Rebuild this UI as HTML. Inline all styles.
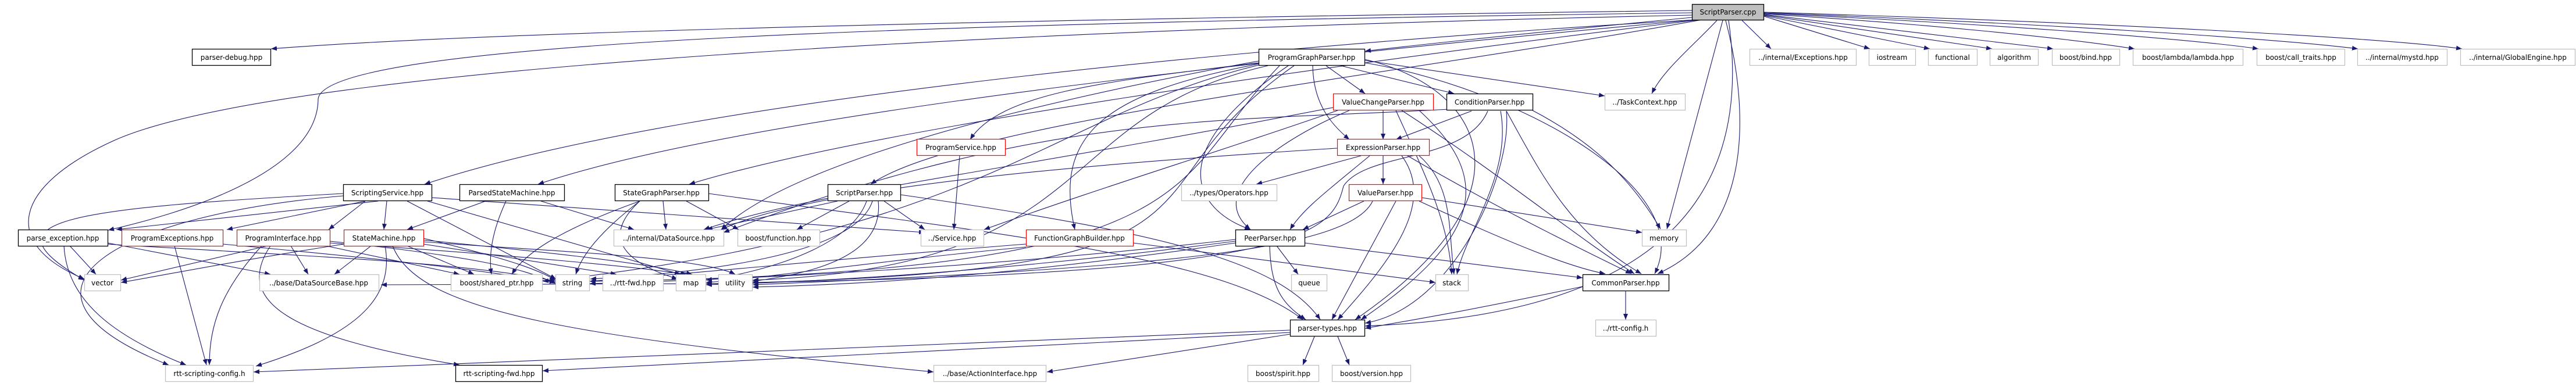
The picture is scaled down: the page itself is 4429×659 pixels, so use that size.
<!DOCTYPE html>
<html><head><meta charset="utf-8"><style>
html,body{margin:0;padding:0;background:#fff;}
svg{display:block;}
text{font-family:"DejaVu Sans","Liberation Sans",sans-serif;font-size:12px;fill:#000;}
.e{fill:none;stroke:#191970;stroke-width:1.1;marker-end:url(#a);}
.g{fill:#fff;stroke:#bfbfbf;stroke-width:1.2;}
.b{fill:#fff;stroke:#000;stroke-width:1.3;}
.r{fill:#fff;stroke:#ff0000;stroke-width:1.2;}
</style></head><body>
<svg width="4429" height="659" viewBox="0 0 4429 659" xmlns="http://www.w3.org/2000/svg">
<defs><marker id="a" markerWidth="10" markerHeight="8" refX="10" refY="4" orient="auto" markerUnits="userSpaceOnUse"><path d="M0,0 L10,4 L0,8 z" fill="#191970"/></marker></defs>
<g>
<!-- ScriptParser.cpp edges -->
<path class="e" d="M2909,18 C2000,30 900,50 466,84"/>
<path class="e" d="M2909,22 C1600,40 560,70 547,170 C547,300 300,370 186,396"/>
<path class="e" d="M2909,26 C1800,50 500,110 200,240 C20,320 0,420 145,480"/>
<path class="e" d="M2915,34 C2300,70 1200,160 730,317"/>
<path class="e" d="M2918,34 C2300,90 1300,190 925,317"/>
<path class="e" d="M2922,34 C2300,110 1500,220 1185,317"/>
<path class="e" d="M2926,34 C2400,130 1650,210 1497,317"/>
<path class="e" d="M2909,30 C2700,50 2500,70 2347,88"/>
<path class="e" d="M2952,35 C2910,80 2860,120 2840,161"/>
<path class="e" d="M2962,35 L2866,394"/>
<path class="e" d="M2967,35 C3010,200 3010,400 2850,471"/>
<path class="e" d="M2972,35 C3010,300 2900,540 2347,561"/>
<path class="e" d="M2995,35 L3045,84"/>
<path class="e" d="M3033,28 L3215,84"/>
<path class="e" d="M3033,27 L3318,84"/>
<path class="e" d="M3033,26 L3425,84"/>
<path class="e" d="M3033,25 L3530,84"/>
<path class="e" d="M3033,24 C3300,40 3550,65 3670,84"/>
<path class="e" d="M3033,23 C3400,40 3750,65 3883,84"/>
<path class="e" d="M3033,22 C3500,40 3900,65 4054,84"/>
<path class="e" d="M3033,21 C3600,38 4100,65 4233,84"/>
<!-- ProgramGraphParser edges -->
<path class="e" d="M2280,113 L2347,161"/>
<path class="e" d="M2305,113 L2500,161"/>
<path class="e" d="M2346,104 L2759,165"/>
<path class="e" d="M2257,113 C2258,180 2290,215 2320,240"/>
<path class="e" d="M2164,108 C1900,140 1720,160 1668,240"/>
<path class="e" d="M2164,110 C1900,160 1810,230 1848,395"/>
<path class="e" d="M2215,113 C2000,260 2050,360 2150,395"/>
<path class="e" d="M2164,105 C1700,190 1350,290 1240,395"/>
<path class="e" d="M2346,108 C2600,150 2920,320 2845,471"/>
<path class="e" d="M2346,102 C2550,150 2650,330 2330,550"/>
<path class="e" d="M2200,113 C2000,320 2100,470 1014,484"/>
<path class="e" d="M2225,113 C1900,340 2200,470 1214,488"/>
<path class="e" d="M2180,113 C1800,200 1900,460 1294,482"/>
<path class="e" d="M2164,112 C1800,200 1700,400 933,484"/>
<!-- ValueChangeParser -->
<path class="e" d="M2378,190 L2378,240"/>
<path class="e" d="M2320,190 C2200,240 2070,330 2150,395"/>
<path class="e" d="M2300,190 C2100,260 1900,320 1692,395"/>
<path class="e" d="M2292,185 C1700,300 1400,330 1210,395"/>
<path class="e" d="M2410,190 C2580,300 2700,400 2810,471"/>
<path class="e" d="M2440,190 C2560,300 2560,400 2340,550"/>
<path class="e" d="M2400,190 C2450,300 2490,380 2496,472"/>
<!-- ConditionParser -->
<path class="e" d="M2530,191 L2400,240"/>
<path class="e" d="M2490,188 C2100,210 1800,190 1244,400"/>
<path class="e" d="M2558,191 C2520,280 2350,260 2310,320 C2290,400 2250,470 1294,486"/>
<path class="e" d="M2590,191 C2650,300 2700,400 2822,471"/>
<path class="e" d="M2590,191 C2600,300 2500,530 2347,556"/>
<path class="e" d="M2580,191 C2600,300 2520,400 2505,472"/>
<path class="e" d="M2635,190 C2730,240 2800,300 2855,394"/>
<!-- ExpressionParser -->
<path class="e" d="M2340,268 L2160,317"/>
<path class="e" d="M2378,268 L2378,317"/>
<path class="e" d="M2355,268 C2280,330 2240,360 2218,395"/>
<path class="e" d="M2420,268 C2560,350 2700,420 2805,471"/>
<path class="e" d="M2410,268 C2470,350 2390,450 2300,550"/>
<path class="e" d="M2440,268 C2500,320 2490,400 2500,472"/>
<path class="e" d="M2299,255 C1900,280 1400,320 1240,395"/>
<!-- ValueParser -->
<path class="e" d="M2345,346 L2240,395"/>
<path class="e" d="M2400,346 L2290,550"/>
<path class="e" d="M2440,346 C2600,420 2700,460 2760,471"/>
<path class="e" d="M2444,340 L2823,400"/>
<path class="e" d="M2360,346 C2320,430 2000,460 1294,490"/>
<!-- PeerParser -->
<path class="e" d="M2195,423 L2232,472"/>
<path class="e" d="M2243,418 L2721,478"/>
<path class="e" d="M2183,423 C2185,490 2200,520 2245,550"/>
<path class="e" d="M2124,412 C1700,460 1300,480 1014,488"/>
<path class="e" d="M2124,415 C1700,470 1400,485 1214,490"/>
<path class="e" d="M2124,418 C1700,480 1450,490 1294,494"/>
<!-- CommonParser -->
<path class="e" d="M2795,501 L2795,550"/>
<path class="e" d="M2721,493 C2500,540 2400,555 2347,565"/>
<!-- parser-types -->
<path class="e" d="M2260,579 L2240,628"/>
<path class="e" d="M2300,579 L2320,628"/>
<path class="e" d="M2218,575 L1800,640"/>
<path class="e" d="M2218,568 C1500,600 800,620 436,640"/>
<path class="e" d="M2218,572 C1700,600 1100,630 933,638"/>
<!-- ProgramService, FGB -->
<path class="e" d="M1650,268 L1640,395"/>
<path class="e" d="M1948,418 L2468,486"/>
<path class="e" d="M1764,420 C1500,440 1200,470 1014,484"/>
<path class="e" d="M1764,425 C1500,450 1300,480 1214,486"/>
<!-- ScriptingService -->
<path class="e" d="M650,346 L200,395"/>
<path class="e" d="M628,346 L390,395"/>
<path class="e" d="M628,346 L565,395"/>
<path class="e" d="M665,346 L660,395"/>
<path class="e" d="M590,333 C100,360 -30,380 145,482"/>
<path class="e" d="M700,346 L956,480"/>
<path class="e" d="M735,346 L1170,472"/>
<path class="e" d="M742,340 L1590,400"/>
<path class="e" d="M590,337 C200,370 -30,500 290,628"/>
<!-- ParsedStateMachine -->
<path class="e" d="M835,346 L700,395"/>
<path class="e" d="M870,346 C845,400 840,440 845,472"/>
<path class="e" d="M930,346 L1090,395"/>
<!-- StateGraphParser -->
<path class="e" d="M1140,346 L1145,395"/>
<path class="e" d="M1180,346 L1270,395"/>
<path class="e" d="M1100,346 C1030,400 1000,440 990,472"/>
<path class="e" d="M1100,346 C950,400 900,440 880,472"/>
<path class="e" d="M1100,346 C1020,420 1100,460 1165,480"/>
<path class="e" d="M1218,333 C1700,400 2100,440 2240,550"/>
<!-- ScriptParser.hpp -->
<path class="e" d="M1460,346 L1370,395"/>
<path class="e" d="M1440,346 L1215,395"/>
<path class="e" d="M1500,346 C1470,440 1200,470 1015,480"/>
<path class="e" d="M1490,346 C1460,430 1300,470 1214,482"/>
<path class="e" d="M1510,346 C1520,440 1400,470 1294,484"/>
<path class="e" d="M1520,346 L1590,395"/>
<path class="e" d="M1548,335 C2000,400 2200,450 2270,550"/>
<!-- parse_exception -->
<path class="e" d="M120,423 L165,472"/>
<path class="e" d="M185,418 L465,472"/>
<path class="e" d="M185,420 C500,440 800,450 955,484"/>
<path class="e" d="M110,423 C115,520 200,580 320,628"/>
<!-- ProgramExceptions -->
<path class="e" d="M300,423 L355,628"/>
<path class="e" d="M383,420 C600,440 800,460 955,486"/>
<!-- ProgramInterface -->
<path class="e" d="M460,423 L208,482"/>
<path class="e" d="M500,423 L530,472"/>
<path class="e" d="M450,423 C380,500 360,560 360,628"/>
<path class="e" d="M465,423 C400,520 500,580 790,628"/>
<path class="e" d="M567,415 C800,440 900,460 955,488"/>
<path class="e" d="M567,418 C900,440 1100,460 1180,472"/>
<path class="e" d="M560,423 L790,472"/>
<!-- StateMachine -->
<path class="e" d="M638,423 L575,472"/>
<path class="e" d="M700,423 L815,472"/>
<path class="e" d="M728,410 C850,440 920,460 955,482"/>
<path class="e" d="M728,413 C900,430 1100,450 1190,472"/>
<path class="e" d="M728,416 C900,430 1200,440 1264,472"/>
<path class="e" d="M728,420 L1060,472"/>
<path class="e" d="M662,423 C680,520 600,580 440,630"/>
<path class="e" d="M675,423 C720,540 1000,580 1605,640"/>
<path class="e" d="M591,420 C400,450 300,470 208,486"/>
<path class="e" d="M1235,488 L655,490"/>
</g>
<g>
<rect x="2909.5" y="7.5" width="123" height="27" fill="#bfbfbf" stroke="#000" stroke-width="1.3"/><text x="2971" y="25" text-anchor="middle">ScriptParser.cpp</text>
<rect class="b" x="330.5" y="84.5" width="135" height="28"/><text x="398" y="103" text-anchor="middle">parser-debug.hpp</text>
<rect class="b" x="2164.5" y="84.5" width="182" height="28"/><text x="2255" y="103" text-anchor="middle">ProgramGraphParser.hpp</text>
<rect class="g" x="3008.5" y="84.5" width="183" height="28"/><text x="3100" y="103" text-anchor="middle">../internal/Exceptions.hpp</text>
<rect class="g" x="3213.5" y="84.5" width="80" height="28"/><text x="3253" y="103" text-anchor="middle">iostream</text>
<rect class="g" x="3315.5" y="84.5" width="84" height="28"/><text x="3357" y="103" text-anchor="middle">functional</text>
<rect class="g" x="3421.5" y="84.5" width="83" height="28"/><text x="3463" y="103" text-anchor="middle">algorithm</text>
<rect class="g" x="3528.5" y="84.5" width="116" height="28"/><text x="3586" y="103" text-anchor="middle">boost/bind.hpp</text>
<rect class="g" x="3667.5" y="84.5" width="189" height="28"/><text x="3762" y="103" text-anchor="middle">boost/lambda/lambda.hpp</text>
<rect class="g" x="3880.5" y="84.5" width="151" height="28"/><text x="3956" y="103" text-anchor="middle">boost/call_traits.hpp</text>
<rect class="g" x="4053.5" y="84.5" width="154" height="28"/><text x="4130" y="103" text-anchor="middle">../internal/mystd.hpp</text>
<rect class="g" x="4230.5" y="84.5" width="197" height="28"/><text x="4329" y="103" text-anchor="middle">../internal/GlobalEngine.hpp</text>

<rect class="r" x="2292.5" y="161.5" width="172" height="28"/><text x="2378" y="180" text-anchor="middle">ValueChangeParser.hpp</text>
<rect class="b" x="2487.5" y="161.5" width="148" height="28"/><text x="2561" y="180" text-anchor="middle">ConditionParser.hpp</text>
<rect class="g" x="2759.5" y="161.5" width="138" height="28"/><text x="2828" y="180" text-anchor="middle">../TaskContext.hpp</text>

<rect class="r" x="1576.5" y="239.5" width="152" height="28"/><text x="1652" y="258" text-anchor="middle">ProgramService.hpp</text>
<rect class="r" x="2299.5" y="239.5" width="158" height="28"/><text x="2378" y="258" text-anchor="middle">ExpressionParser.hpp</text>

<rect class="b" x="590.5" y="317.5" width="152" height="28"/><text x="666" y="336" text-anchor="middle">ScriptingService.hpp</text>
<rect class="b" x="790.5" y="317.5" width="180" height="28"/><text x="880" y="336" text-anchor="middle">ParsedStateMachine.hpp</text>
<rect class="b" x="1057.5" y="317.5" width="161" height="28"/><text x="1137" y="336" text-anchor="middle">StateGraphParser.hpp</text>
<rect class="b" x="1423.5" y="317.5" width="125" height="28"/><text x="1486" y="336" text-anchor="middle">ScriptParser.hpp</text>
<rect class="g" x="2031.5" y="317.5" width="164" height="28"/><text x="2113" y="336" text-anchor="middle">../types/Operators.hpp</text>
<rect class="r" x="2319.5" y="317.5" width="125" height="28"/><text x="2382" y="336" text-anchor="middle">ValueParser.hpp</text>

<rect class="b" x="31.5" y="395.5" width="154" height="28"/><text x="108" y="414" text-anchor="middle">parse_exception.hpp</text>
<rect class="r" x="209.5" y="395.5" width="174" height="28"/><text x="296" y="414" text-anchor="middle">ProgramExceptions.hpp</text>
<rect class="r" x="407.5" y="395.5" width="160" height="28"/><text x="487" y="414" text-anchor="middle">ProgramInterface.hpp</text>
<rect class="r" x="591.5" y="395.5" width="137" height="28"/><text x="660" y="414" text-anchor="middle">StateMachine.hpp</text>
<rect class="g" x="1055.5" y="395.5" width="189" height="28"/><text x="1150" y="414" text-anchor="middle">../internal/DataSource.hpp</text>
<rect class="g" x="1268.5" y="395.5" width="141" height="28"/><text x="1338" y="414" text-anchor="middle">boost/function.hpp</text>
<rect class="g" x="1583.5" y="395.5" width="108" height="28"/><text x="1637" y="414" text-anchor="middle">../Service.hpp</text>
<rect class="r" x="1764.5" y="395.5" width="184" height="28"/><text x="1856" y="414" text-anchor="middle">FunctionGraphBuilder.hpp</text>
<rect class="b" x="2124.5" y="395.5" width="119" height="28"/><text x="2184" y="414" text-anchor="middle">PeerParser.hpp</text>
<rect class="g" x="2823.5" y="395.5" width="76" height="28"/><text x="2861" y="414" text-anchor="middle">memory</text>

<rect class="g" x="145.5" y="472.5" width="62" height="28"/><text x="176" y="491" text-anchor="middle">vector</text>
<rect class="g" x="446.5" y="472.5" width="205" height="28"/><text x="548" y="491" text-anchor="middle">../base/DataSourceBase.hpp</text>
<rect class="g" x="775.5" y="472.5" width="157" height="28"/><text x="854" y="491" text-anchor="middle">boost/shared_ptr.hpp</text>
<rect class="g" x="955.5" y="472.5" width="58" height="28"/><text x="984" y="491" text-anchor="middle">string</text>
<rect class="g" x="1036.5" y="472.5" width="104" height="28"/><text x="1088" y="491" text-anchor="middle">../rtt-fwd.hpp</text>
<rect class="g" x="1162.5" y="472.5" width="51" height="28"/><text x="1188" y="491" text-anchor="middle">map</text>
<rect class="g" x="1235.5" y="472.5" width="58" height="28"/><text x="1264" y="491" text-anchor="middle">utility</text>
<rect class="g" x="2220.5" y="472.5" width="61" height="28"/><text x="2251" y="491" text-anchor="middle">queue</text>
<rect class="g" x="2468.5" y="472.5" width="56" height="28"/><text x="2496" y="491" text-anchor="middle">stack</text>
<rect class="b" x="2721.5" y="472.5" width="148" height="28"/><text x="2795" y="491" text-anchor="middle">CommonParser.hpp</text>

<rect class="b" x="2218.5" y="550.5" width="128" height="28"/><text x="2282" y="569" text-anchor="middle">parser-types.hpp</text>
<rect class="g" x="2743.5" y="550.5" width="104" height="28"/><text x="2795" y="569" text-anchor="middle">../rtt-config.h</text>

<rect class="g" x="284.5" y="628.5" width="151" height="28"/><text x="360" y="647" text-anchor="middle">rtt-scripting-config.h</text>
<rect class="b" x="783.5" y="628.5" width="149" height="28"/><text x="858" y="647" text-anchor="middle">rtt-scripting-fwd.hpp</text>
<rect class="g" x="1605.5" y="628.5" width="193" height="28"/><text x="1702" y="647" text-anchor="middle">../base/ActionInterface.hpp</text>
<rect class="g" x="2145.5" y="628.5" width="122" height="28"/><text x="2206" y="647" text-anchor="middle">boost/spirit.hpp</text>
<rect class="g" x="2290.5" y="628.5" width="135" height="28"/><text x="2358" y="647" text-anchor="middle">boost/version.hpp</text>
</g>
</svg>
</body></html>
